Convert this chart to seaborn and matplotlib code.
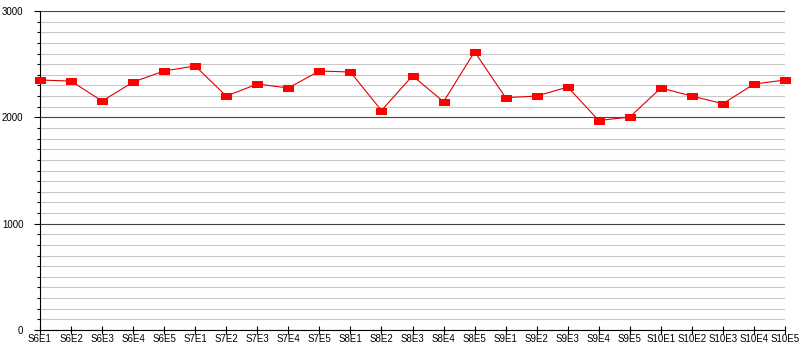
import matplotlib
matplotlib.use("Agg")
import matplotlib.pyplot as plt
from matplotlib.ticker import MultipleLocator
import seaborn as sns
import pandas as pd

episodes = ["S6E1", "S6E2", "S6E3", "S6E4", "S6E5",
            "S7E1", "S7E2", "S7E3", "S7E4", "S7E5",
            "S8E1", "S8E2", "S8E3", "S8E4", "S8E5",
            "S9E1", "S9E2", "S9E3", "S9E4", "S9E5",
            "S10E1", "S10E2", "S10E3", "S10E4", "S10E5"]
values = [2351, 2341, 2153, 2332, 2436,
          2483, 2200, 2313, 2276, 2436,
          2426, 2064, 2391, 2147, 2617,
          2185, 2200, 2285, 1970, 2003,
          2276, 2200, 2128, 2313, 2351]
y_ticks = [0, 1000, 2000, 3000]

sns.set_theme(style="white")
plt.rcParams['font.family'] = ['Liberation Sans', 'DejaVu Sans']
fsize = 7

df = pd.DataFrame({"episode": episodes, "value": values})

fig = plt.figure(figsize=(8, 3.5), dpi=100)
ax = fig.add_axes([40/800, 20/350, 745/800, 319/350])

rect = [(-1, -0.62), (1, -0.62), (1, 0.62), (-1, 0.62), (-1, -0.62)]
sns.lineplot(data=df, x="episode", y="value", sort=False, ax=ax,
             color="#dd0000", linewidth=0.8, marker=rect, markersize=7.5,
             markerfacecolor="#ff0000", markeredgecolor="#ff0000", zorder=5,
             clip_on=False)

ax.set_xlim(0, len(episodes) - 1)
ax.set_ylim(0, 3000)
ax.set_xlabel("")
ax.set_ylabel("")
ax.set_yticks(y_ticks)
ax.set_yticklabels([str(t) for t in y_ticks])
ax.yaxis.set_minor_locator(MultipleLocator(100))

ax.grid(True, which="major", axis="y", color="#444444", linewidth=0.8, zorder=0)
ax.grid(True, which="minor", axis="y", color="#c8c8c8", linewidth=0.8, zorder=0)
ax.grid(False, axis="x")
ax.set_axisbelow(True)

for s in ["top", "right"]:
    ax.spines[s].set_visible(False)
for s in ["left", "bottom"]:
    ax.spines[s].set_color("black")
    ax.spines[s].set_linewidth(0.8)

ax.tick_params(axis="y", which="major", direction="out", length=4, width=0.8,
               color="black", labelsize=fsize, labelcolor="black", pad=8, left=True)
ax.tick_params(axis="y", which="minor", direction="out", length=2, width=0.8,
               color="black", left=True)
ax.tick_params(axis="x", which="major", direction="inout", length=6, width=0.8,
               color="black", labelsize=fsize, labelcolor="black", pad=0, bottom=True)

fig.savefig("out.png", dpi=100, facecolor="white")
